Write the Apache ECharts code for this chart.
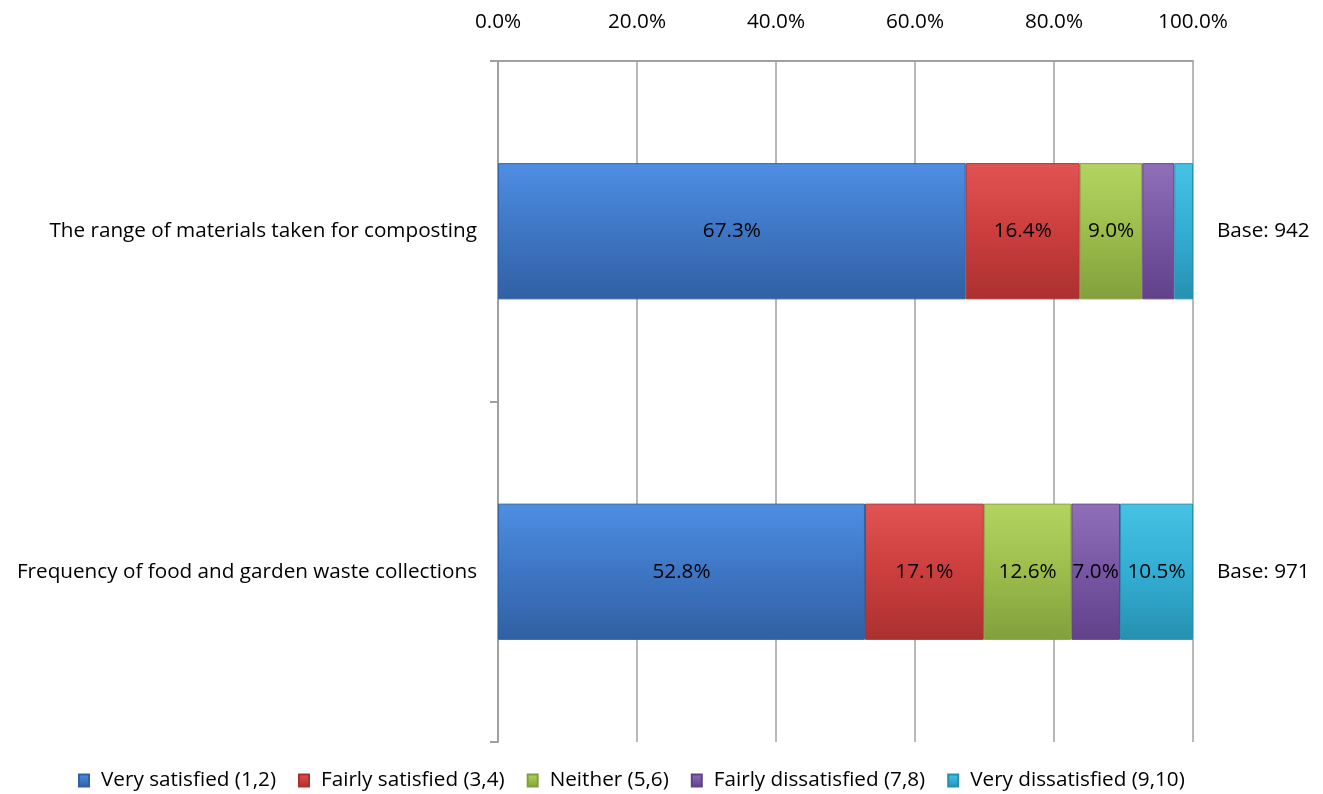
<!DOCTYPE html>
<html><head><meta charset="utf-8">
<script src="https://cdn.jsdelivr.net/npm/echarts@6/dist/echarts.min.js"></script>
<style>html,body{margin:0;padding:0;background:#fff}#c{width:1323px;height:794px}</style>
</head><body><div id="c"></div>
<script>
const categories = ['The range of materials taken for composting', 'Frequency of food and garden waste collections'];
const baseLabels = ['Base: 942', 'Base: 971'];
const seriesNames = ['Very satisfied (1,2)', 'Fairly satisfied (3,4)', 'Neither (5,6)', 'Fairly dissatisfied (7,8)', 'Very dissatisfied (9,10)'];
const verySatisfied = [67.3, 52.8];
const fairlySatisfied = [16.4, 17.1];
const neither = [9.0, 12.6];
const fairlyDissatisfied = [4.6, 7.0];
const veryDissatisfied = [2.7, 10.5];
const xTicks = [0, 20, 40, 60, 80, 100];

const values = [verySatisfied, fairlySatisfied, neither, fairlyDissatisfied, veryDissatisfied];
const colors = [
  ['#4e8ee2', '#3e76c4', '#3160a3'],
  ['#e25454', '#cc3e3e', '#ab3030'],
  ['#b4d462', '#9cbd4c', '#81a03c'],
  ['#906fba', '#7756a3', '#614289'],
  ['#46c2e4', '#33aed3', '#2690b0']
];
const font = '"Open Sans", "Liberation Sans", sans-serif';
const fs = 20.7;

const chart = echarts.init(document.getElementById('c'));
chart.setOption({
  animation: false,
  textStyle: { fontFamily: font },
  legend: {
    bottom: -2, left: 73, icon: 'rect',
    itemWidth: 10, itemHeight: 12, itemGap: 22,
    textStyle: { fontSize: fs, color: '#000', fontFamily: font, padding: [0, 0, 0, 7] },
    data: seriesNames
  },
  grid: { left: 498, right: 130, top: 61, bottom: 52 },
  xAxis: {
    type: 'value', position: 'top', min: 0, max: 100, interval: 20,
    axisLabel: { fontSize: fs, color: '#000', margin: 28, formatter: v => v.toFixed(1) + '%' },
    axisLine: { show: true, lineStyle: { color: '#a0a0a0', width: 2 } },
    axisTick: { show: false },
    splitLine: { show: true, lineStyle: { color: '#a0a0a0', width: 1.5 } }
  },
  yAxis: [{
    type: 'category', inverse: true, data: categories,
    axisLine: { show: true, lineStyle: { color: '#a0a0a0', width: 2 } },
    axisTick: { show: true, length: 8, lineStyle: { color: '#a0a0a0', width: 2 } },
    axisLabel: { fontSize: fs, color: '#000', margin: 21 }
  }, {
    type: 'category', inverse: true, position: 'right', data: baseLabels,
    axisLine: { show: false }, axisTick: { show: false },
    axisLabel: { fontSize: fs, color: '#000', margin: 24, align: 'left' }
  }],
  series: values.map((arr, i) => ({
    name: seriesNames[i], type: 'bar', stack: 'total', barWidth: '40%',
    data: arr,
    itemStyle: {
      color: new echarts.graphic.LinearGradient(0, 0, 0, 1, [
        { offset: 0, color: colors[i][0] },
        { offset: 0.5, color: colors[i][1] },
        { offset: 1, color: colors[i][2] }
      ]),
      borderColor: colors[i][2], borderWidth: 1
    },
    label: {
      show: true, position: 'inside', fontSize: fs, color: '#000',
      formatter: p => p.value >= 5 ? p.value.toFixed(1) + '%' : ''
    }
  }))
});
</script></body></html>
